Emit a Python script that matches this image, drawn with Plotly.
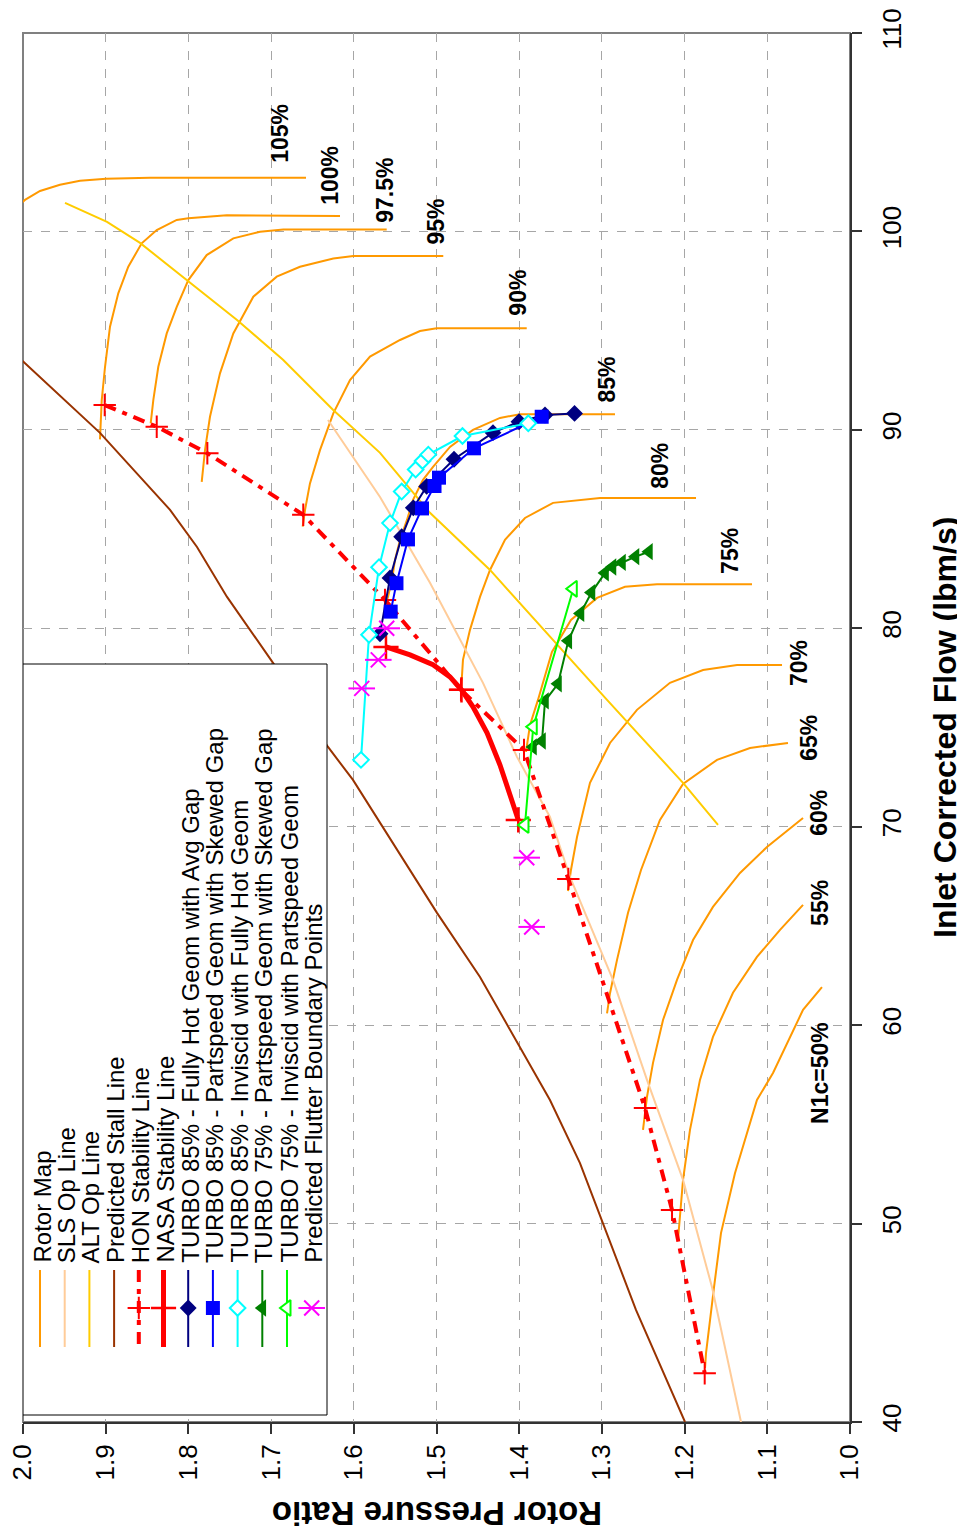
import plotly.graph_objects as go

FONT = "Liberation Sans, Arial, sans-serif"

# ---------------- DATA (x = Rotor Pressure Ratio, y = Inlet Corrected Flow) ----------------
pr_ticks = [2.0, 1.9, 1.8, 1.7, 1.6, 1.5, 1.4, 1.3, 1.2, 1.1, 1.0]
pr_tick_text = ["2.0", "1.9", "1.8", "1.7", "1.6", "1.5", "1.4", "1.3", "1.2", "1.1", "1.0"]
flow_ticks = [40, 50, 60, 70, 80, 90, 100, 110]

rm50_pr = [1.1753, 1.1741, 1.1644, 1.1560, 1.1391, 1.1125, 1.0931, 1.0568, 1.0339]
rm50_flow = [42.72, 43.47, 46.80, 49.52, 52.54, 56.23, 57.59, 60.77, 61.92]
rm55_pr = [1.2080, 1.2019, 1.1935, 1.1814, 1.1657, 1.1415, 1.1125, 1.0846, 1.0568]
rm55_flow = [49.17, 52.20, 54.72, 57.24, 59.41, 61.63, 63.44, 64.80, 66.06]
rm60_pr = [1.2503, 1.2455, 1.2382, 1.2261, 1.2092, 1.1898, 1.1657, 1.1330, 1.1004, 1.0568]
rm60_flow = [54.72, 56.38, 58.10, 60.26, 62.28, 64.29, 65.96, 67.67, 68.98, 70.44]
rm65_pr = [1.2938, 1.2902, 1.2817, 1.2684, 1.2527, 1.2298, 1.2019, 1.1608, 1.1209, 1.0750]
rm65_flow = [60.59, 61.61, 63.29, 65.66, 67.82, 70.34, 72.16, 73.37, 73.97, 74.22]
rm70_pr = [1.3410, 1.3374, 1.3301, 1.3144, 1.2902, 1.2576, 1.2177, 1.1777, 1.1366, 1.0822]
rm70_flow = [66.76, 67.82, 69.48, 72.21, 74.22, 75.89, 77.25, 77.90, 78.15, 78.15]
rm75_pr = [1.3918, 1.3869, 1.3773, 1.3604, 1.3374, 1.3059, 1.2721, 1.2334, 1.1185]
rm75_flow = [73.77, 75.13, 76.39, 78.81, 80.42, 81.53, 82.09, 82.22, 82.22]
rm80_pr = [1.4704, 1.4680, 1.4595, 1.4474, 1.4353, 1.4172, 1.3930, 1.3591, 1.3023, 1.1862]
rm80_flow = [76.79, 78.41, 79.92, 81.58, 82.94, 84.46, 85.56, 86.32, 86.57, 86.57]
rm85_pr = [1.5623, 1.5587, 1.5538, 1.5502, 1.5441, 1.5357, 1.5284, 1.5163, 1.5042, 1.4837,
           1.4559, 1.4232, 1.3990, 1.2842]
rm85_flow = [81.13, 81.58, 82.44, 83.45, 84.46, 85.46, 86.47, 87.48, 88.13, 89.14,
             90.00, 90.60, 90.79, 90.79]
rm90_pr = [1.6618, 1.6590, 1.6530, 1.6409, 1.6248, 1.6046, 1.5804, 1.5441, 1.5200, 1.4998, 1.3909]
rm90_flow = [85.12, 85.96, 87.30, 88.98, 90.83, 92.51, 93.69, 94.53, 94.98, 95.12, 95.12]
rm95_pr = [1.7839, 1.7799, 1.7739, 1.7618, 1.7457, 1.7215, 1.6932, 1.6651, 1.6248, 1.6006, 1.4918]
rm95_flow = [87.38, 88.99, 90.66, 92.85, 94.86, 96.71, 97.72, 98.22, 98.64, 98.76, 98.76]
rm975_pr = [1.8456, 1.8424, 1.8364, 1.8262, 1.8141, 1.8001, 1.7779, 1.7457, 1.7134, 1.6852, 1.5602]
rm975_flow = [90.33, 91.51, 93.18, 94.86, 96.20, 97.55, 98.81, 99.65, 99.98, 100.10, 100.10]
rm100_pr = [1.9069, 1.9048, 1.9008, 1.8948, 1.8848, 1.8727, 1.8565, 1.8383, 1.8141, 1.8001,
            1.7537, 1.6167]
rm100_flow = [89.52, 91.50, 93.18, 95.20, 96.88, 98.22, 99.40, 100.07, 100.58, 100.66,
              100.81, 100.78]
rm105_pr = [2.0097, 1.9976, 1.9794, 1.9553, 1.9311, 1.8996, 1.8464, 1.6578]
rm105_flow = [101.14, 101.59, 102.04, 102.35, 102.55, 102.65, 102.70, 102.70]

speed_names = ["N1c=50%", "55%", "60%", "65%", "70%", "75%", "80%", "85%", "90%", "95%",
               "97.5%", "100%", "105%"]

sls_pr = [1.6312, 1.5683, 1.5079, 1.4438, 1.4027, 1.3628, 1.3386, 1.2866, 1.2455, 1.2019,
          1.1669, 1.1318]
sls_flow = [90.50, 86.62, 82.29, 77.25, 73.52, 70.49, 67.47, 62.28, 57.24, 52.20, 46.80, 40.00]

alt_pr = [1.9492, 1.8984, 1.8585, 1.8017, 1.7412, 1.6856, 1.6252, 1.5683, 1.5079, 1.4353,
          1.3591, 1.2938, 1.2019, 1.1596]
alt_flow = [101.44, 100.48, 99.42, 97.56, 95.54, 93.53, 91.01, 88.84, 85.82, 82.94,
            79.42, 76.39, 72.21, 70.09]

stall_pr = [2.0097, 1.9069, 1.8585, 1.8222, 1.7896, 1.7533, 1.6977, 1.6312, 1.6010, 1.5647,
            1.4994, 1.4474, 1.3990, 1.3628, 1.3265, 1.2987, 1.2588, 1.1995]
stall_flow = [93.83, 89.85, 87.63, 85.97, 84.10, 81.58, 78.26, 74.02, 72.36, 69.99,
              65.66, 62.43, 58.90, 56.23, 53.05, 50.03, 45.65, 40.00]

hon_pr = [1.9012, 1.8383, 1.7771, 1.6611, 1.5623, 1.4704, 1.3942, 1.3406, 1.2479, 1.2152, 1.1757]
hon_flow = [91.25, 90.16, 88.82, 85.72, 81.43, 76.90, 73.87, 67.37, 55.83, 50.69, 42.46]

nasa_pr = [1.5611, 1.5320, 1.5042, 1.4837, 1.4698, 1.4559, 1.4389, 1.4232, 1.4111, 1.4011]
nasa_flow = [79.06, 78.66, 78.16, 77.55, 76.90, 76.04, 74.73, 73.11, 71.60, 70.34]
nasa_pts_pr = [1.5611, 1.4698, 1.4011]
nasa_pts_flow = [79.06, 76.90, 70.34]

t85_hot_pr = [1.5683, 1.5562, 1.5421, 1.5280, 1.5119, 1.4788, 1.4317, 1.4002, 1.3688, 1.3331]
t85_hot_flow = [79.72, 82.54, 84.61, 86.07, 87.15, 88.52, 89.86, 90.41, 90.75, 90.83]

t85_skew_pr = [1.5554, 1.5484, 1.5345, 1.5175, 1.5024, 1.4970, 1.4547, 1.3728]
t85_skew_flow = [80.84, 82.27, 84.48, 86.04, 87.17, 87.59, 89.07, 90.66]

t85_inv_pr = [1.5913, 1.5816, 1.5695, 1.5562, 1.5421, 1.5252, 1.5169, 1.5099, 1.4686, 1.3890]
t85_inv_flow = [73.37, 79.67, 83.08, 85.30, 86.89, 88.00, 88.43, 88.75, 89.69, 90.33]

t75_skew_pr = [1.3833, 1.3724, 1.3688, 1.3531, 1.3406, 1.3259, 1.3126, 1.2962, 1.2872, 1.2757,
               1.2594, 1.2431]
t75_skew_flow = [74.02, 74.32, 76.34, 77.20, 79.37, 80.75, 81.80, 82.79, 83.09, 83.32,
                 83.61, 83.86]

t75_inv_pr = [1.3930, 1.3830, 1.3346]
t75_inv_flow = [70.09, 75.04, 81.99]

flutter_pr = [1.5602, 1.5704, 1.5904, 1.3909, 1.3849]
flutter_flow = [80.00, 78.41, 76.97, 68.44, 64.95]

legend_labels = ["Rotor Map", "SLS Op Line", "ALT Op Line", "Predicted Stall Line",
                 "HON Stability Line", "NASA Stability Line",
                 "TURBO 85% - Fully Hot Geom with Avg Gap",
                 "TURBO 85% - Partspeed Geom with Skewed Gap",
                 "TURBO 85% - Inviscid with Fully Hot Geom",
                 "TURBO 75% - Partspeed Geom with Skewed Gap",
                 "TURBO 75% - Inviscid with Partspeed Geom",
                 "Predicted Flutter Boundary Points"]

# ---------------- STYLES ----------------
ORANGE = "#FF9900"
PEACH = "#FFCC99"
GOLD = "#FFCC00"
BROWN = "#993300"
RED = "#FF0000"
NAVY = "#000080"
BLUE = "#0000FF"
CYAN = "#00FFFF"
DKGREEN = "#008000"
LIME = "#00FF00"
MAGENTA = "#FF00FF"
HON_DASH = "12px,7px,5px,7px"

FLUTTER_X = dict(symbol="x-thin-open", size=15, color=MAGENTA, line=dict(color=MAGENTA, width=2))
FLUTTER_H = dict(symbol="line-ew-open", size=19, color=MAGENTA, line=dict(color=MAGENTA, width=2))

styles = [
    dict(line=dict(color=ORANGE, width=2), mode="lines"),
    dict(line=dict(color=PEACH, width=2), mode="lines"),
    dict(line=dict(color=GOLD, width=2), mode="lines"),
    dict(line=dict(color=BROWN, width=2), mode="lines"),
    dict(line=dict(color=RED, width=4, dash=HON_DASH), mode="lines+markers",
         marker=dict(symbol="cross-thin", size=16, line=dict(color=RED, width=2))),
    dict(line=dict(color=RED, width=5), mode="lines+markers",
         marker=dict(symbol="cross-thin", size=18, line=dict(color=RED, width=2.5))),
    dict(line=dict(color=NAVY, width=2), mode="lines+markers",
         marker=dict(symbol="diamond", size=13, color=NAVY)),
    dict(line=dict(color=BLUE, width=2), mode="lines+markers",
         marker=dict(symbol="square", size=14, color=BLUE)),
    dict(line=dict(color=CYAN, width=2), mode="lines+markers",
         marker=dict(symbol="diamond", size=12, color="white", line=dict(color=CYAN, width=2))),
    dict(line=dict(color=DKGREEN, width=2), mode="lines+markers",
         marker=dict(symbol="triangle-left", size=15, color=DKGREEN)),
    dict(line=dict(color=LIME, width=2), mode="lines+markers",
         marker=dict(symbol="triangle-left", size=14, color="white", line=dict(color=LIME, width=2))),
    dict(mode="markers", marker=FLUTTER_X),
]

fig = go.Figure()


def add(xs, ys, st, **kw):
    d = dict(st)
    d.update(kw)
    fig.add_trace(go.Scatter(x=xs, y=ys, showlegend=False, hoverinfo="skip", **d))


# Rotor map speed lines
for xs, ys in [(rm50_pr, rm50_flow), (rm55_pr, rm55_flow), (rm60_pr, rm60_flow),
               (rm65_pr, rm65_flow), (rm70_pr, rm70_flow), (rm75_pr, rm75_flow),
               (rm80_pr, rm80_flow), (rm85_pr, rm85_flow), (rm90_pr, rm90_flow),
               (rm95_pr, rm95_flow), (rm975_pr, rm975_flow), (rm100_pr, rm100_flow),
               (rm105_pr, rm105_flow)]:
    add(xs, ys, styles[0])

add(sls_pr, sls_flow, styles[1])
add(alt_pr, alt_flow, styles[2])
add(stall_pr, stall_flow, styles[3])
add(hon_pr, hon_flow, styles[4])
add(nasa_pr, nasa_flow, dict(line=styles[5]["line"], mode="lines"))
add(nasa_pts_pr, nasa_pts_flow, dict(mode="markers", marker=styles[5]["marker"]))
add(t85_hot_pr, t85_hot_flow, styles[6])
add(t85_skew_pr, t85_skew_flow, styles[7])
add(t85_inv_pr, t85_inv_flow, styles[8])
add(t75_skew_pr, t75_skew_flow, styles[9])
add(t75_inv_pr, t75_inv_flow, styles[10])
add(flutter_pr, flutter_flow, dict(mode="markers", marker=FLUTTER_X))
add(flutter_pr, flutter_flow, dict(mode="markers", marker=FLUTTER_H))

# ---------------- LAYOUT GEOMETRY (page pixels; page body has an 8px margin) ----------------
BODY = 8
FIG_W, FIG_H = 965 - BODY, 1539 - 2 * BODY
PL, PR_, PT, PB = 23, 850, 33, 1422          # plot area in page pixels

# ---------------- LEGEND (drawn in pixel space on an overlay axis pair) ----------------
box_l, box_r, box_t, box_b = 23, 327, 664, 1415
fig.add_trace(go.Scatter(x=[box_l, box_r, box_r, box_l, box_l],
                         y=[box_t, box_t, box_b, box_b, box_t],
                         fill="toself", fillcolor="white", mode="lines",
                         line=dict(color="black", width=1),
                         xaxis="x2", yaxis="y2", showlegend=False, hoverinfo="skip"))
col0, col_step = 40.0, 24.7
sym_top, sym_bot, sym_mid, text_start = 1270, 1347, 1308, 1265
for i, (lab, st) in enumerate(zip(legend_labels, styles)):
    cx = col0 + i * col_step
    if "line" in st:
        fig.add_trace(go.Scatter(x=[cx, cx], y=[sym_top, sym_bot], mode="lines", line=st["line"],
                                 xaxis="x2", yaxis="y2", showlegend=False, hoverinfo="skip"))
    if "marker" in st:
        fig.add_trace(go.Scatter(x=[cx], y=[sym_mid], mode="markers", marker=st["marker"],
                                 xaxis="x2", yaxis="y2", showlegend=False, hoverinfo="skip"))
    if i == len(legend_labels) - 1:
        fig.add_trace(go.Scatter(x=[cx], y=[sym_mid], mode="markers", marker=FLUTTER_H,
                                 xaxis="x2", yaxis="y2", showlegend=False, hoverinfo="skip"))
    fig.add_annotation(x=cx + 1.5, y=text_start, xref="x2", yref="y2", text=lab, showarrow=False,
                       textangle=-90, xanchor="center", yanchor="bottom",
                       font=dict(family=FONT, size=24, color="black"))

# ---------------- SPEED LABELS ----------------
label_pr = [1.0363, 1.0363, 1.0375, 1.0496, 1.0625, 1.1451, 1.2298, 1.2942, 1.4018, 1.5018,
            1.5623, 1.6288, 1.6892]
label_flow = [57.59, 66.16, 70.70, 74.48, 78.26, 83.90, 88.19, 92.52, 96.90, 100.50,
              102.10, 102.85, 104.92]
for name, lx, ly in zip(speed_names, label_pr, label_flow):
    fig.add_annotation(x=lx, y=ly, xref="x", yref="y", text="<b>%s</b>" % name, showarrow=False,
                       textangle=-90, xanchor="center", yanchor="middle",
                       font=dict(family=FONT, size=23, color="black"))

# ---------------- AXIS TITLES ----------------
fig.add_annotation(x=(945 - PL) / (PR_ - PL), y=(PB - 728) / (PB - PT), xref="paper", yref="paper",
                   text="<b>Inlet Corrected Flow (lbm/s)</b>", showarrow=False, textangle=-90,
                   xanchor="center", yanchor="middle", font=dict(family=FONT, size=32, color="black"))
fig.add_annotation(x=(437 - PL) / (PR_ - PL), y=(PB - 1514) / (PB - PT), xref="paper", yref="paper",
                   text="<b>Rotor Pressure Ratio</b>", showarrow=False, textangle=180,
                   xanchor="center", yanchor="middle", font=dict(family=FONT, size=33, color="black"))

# frame (grey top / left border)
fig.add_shape(type="rect", xref="paper", yref="paper", x0=0, x1=1, y0=0, y1=1,
              line=dict(color="#808080", width=2), layer="below")

grid = dict(showgrid=True, gridcolor="#A6A6A6", gridwidth=1, griddash="dash", zeroline=False,
            automargin=False, ticklabeloverflow="allow")
fig.update_layout(
    width=FIG_W, height=FIG_H,
    margin=dict(l=PL - BODY, r=FIG_W - (PR_ - BODY), t=PT - BODY, b=FIG_H - (PB - BODY),
                autoexpand=False),
    paper_bgcolor="white", plot_bgcolor="white",
    showlegend=False,
    xaxis=dict(range=[2.0, 1.0], tickmode="array", tickvals=pr_ticks, ticktext=pr_tick_text,
               ticks="outside",
               ticklen=10, tickwidth=2, tickcolor="#333333", showline=True, linecolor="#333333",
               linewidth=2, tickangle=-90, ticklabelstandoff=0,
               tickfont=dict(family=FONT, size=26, color="black"), **grid),
    yaxis=dict(range=[40, 110], tickmode="array", tickvals=flow_ticks, side="right",
               ticks="outside", ticklen=10, tickwidth=2,
               tickcolor="#333333", showline=True, linecolor="#333333", linewidth=2,
               tickangle=-90, ticklabelstandoff=8,
               tickfont=dict(family=FONT, size=26, color="black"), **grid),
    xaxis2=dict(overlaying="x", range=[PL, PR_], visible=False, anchor="y2", automargin=False),
    yaxis2=dict(overlaying="y", range=[PB, PT], visible=False, anchor="x2", automargin=False),
)

fig.write_html("out.html")
